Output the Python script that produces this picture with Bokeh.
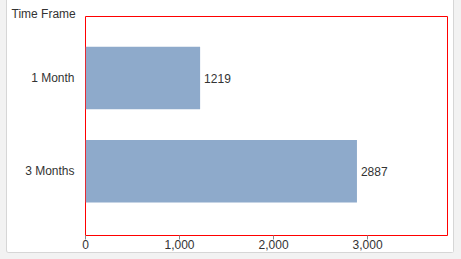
from bokeh.plotting import figure
from bokeh.models import ColumnDataSource, Range1d, FixedTicker, LabelSet, NumeralTickFormatter
from bokeh.core.properties import value
from bokeh.layouts import column
from bokeh.embed import file_html
from bokeh.resources import INLINE

categories = ["1 Month", "3 Months"]
values = [1219, 2887]
x_ticks = [0, 1000, 2000, 3000]
axis_title = "Time Frame"

ypos = [i + 1 for i in range(len(categories))]
src = ColumnDataSource(dict(y=ypos, v=values, lbl=[str(v) for v in values]))

FONT = "Liberation Sans"
TXT = "#333333"

p = figure(width=448, height=253, output_backend="svg", toolbar_location=None,
           x_range=Range1d(0, 3850), y_range=Range1d(2.69, 0.34),
           min_border_left=78, min_border_right=8, min_border_top=16, min_border_bottom=18)
p.margin = (0, 0, 0, 6)
p.styles = {"border": "1px solid #d6d6d6", "border-top": "none", "border-radius": "0 0 3px 3px",
            "box-sizing": "border-box", "background-color": "white"}
p.background_fill_color = "white"
p.border_fill_color = "white"
p.outline_line_color = "#ff0000"
p.outline_line_width = 1
p.xgrid.visible = False
p.ygrid.visible = False

p.title.text = axis_title
p.title.align = "left"
p.title.offset = -74
p.title.standoff = -8
p.title.vertical_align = "bottom"
p.title.text_font = FONT
p.title.text_font_size = "12px"
p.title.text_font_style = "normal"
p.title.text_color = TXT

p.hbar(y="y", right="v", left=0, height=0.67, source=src, fill_color="#8eaacb", line_color=None)

p.add_layout(LabelSet(x="v", y="y", text="lbl", source=src, x_offset=4, text_baseline="middle",
                      text_font=value(FONT), text_font_size=value("12px"), text_color=TXT))

xa = p.xaxis[0]
xa.ticker = FixedTicker(ticks=x_ticks)
xa.formatter = NumeralTickFormatter(format="0,0")
xa.axis_line_color = None
xa.major_tick_line_color = "#888888"
xa.major_tick_out = 4
xa.major_tick_in = 0
xa.minor_tick_line_color = None
xa.major_label_standoff = 0
xa.major_label_text_font = FONT
xa.major_label_text_font_size = "12px"
xa.major_label_text_color = TXT

ya = p.yaxis[0]
ya.ticker = FixedTicker(ticks=ypos)
ya.major_label_overrides = {y: c for y, c in zip(ypos, categories)}
ya.axis_line_color = None
ya.major_tick_line_color = None
ya.minor_tick_line_color = None
ya.major_label_standoff = 5
ya.major_label_text_font = FONT
ya.major_label_text_font_size = "12px"
ya.major_label_text_color = TXT

layout = column(p, width=461, height=259, styles={"background-color": "#f2f2f2"})
open("out.html", "w").write(file_html(layout, INLINE))
